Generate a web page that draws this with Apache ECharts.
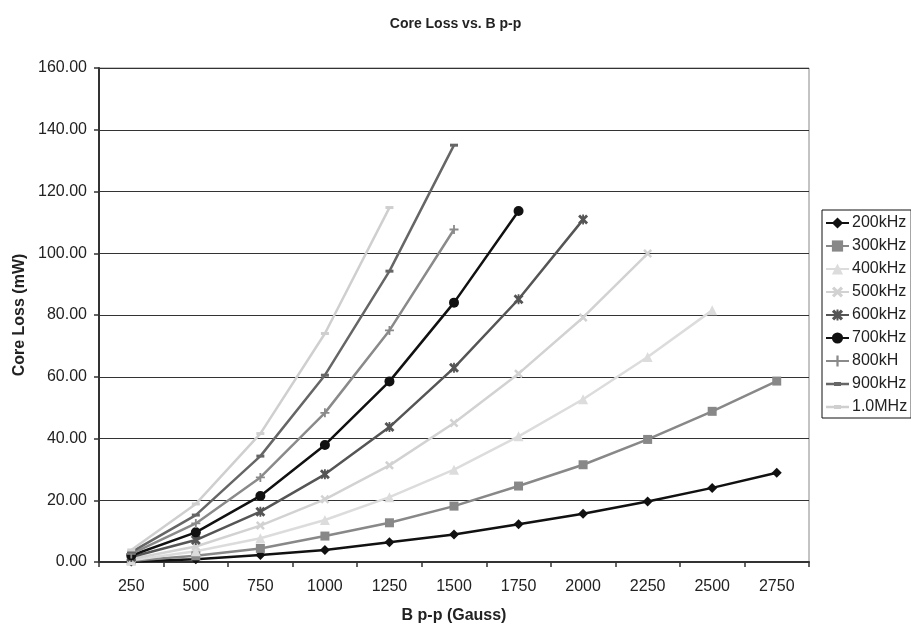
<!DOCTYPE html>
<html>
<head>
<meta charset="utf-8">
<script src="https://cdn.jsdelivr.net/npm/echarts@6/dist/echarts.min.js"></script>
<style>
html,body{margin:0;padding:0;background:#fff;}
#chart{width:911px;height:624px;}
</style>
</head>
<body>
<div id="chart"></div>
<script>
const categories = ['250','500','750','1000','1250','1500','1750','2000','2250','2500','2750'];
const seriesNames = ['200kHz','300kHz','400kHz','500kHz','600kHz','700kHz','800kH','900kHz','1.0MHz'];
const s200k = [0.2, 0.9, 2.3, 3.9, 6.4, 8.9, 12.2, 15.6, 19.6, 24.0, 28.9];
const s300k = [0.4, 2.0, 4.4, 8.4, 12.7, 18.1, 24.6, 31.5, 39.7, 48.8, 58.6];
const s400k = [0.6, 3.5, 7.7, 13.6, 21.0, 29.9, 40.7, 52.7, 66.4, 81.5];
const s500k = [1.0, 5.0, 11.8, 20.3, 31.3, 45.0, 61.0, 79.2, 99.9];
const s600k = [1.6, 7.1, 16.3, 28.4, 43.7, 62.9, 85.1, 110.9];
const s700k = [2.1, 9.6, 21.4, 37.9, 58.5, 84.0, 113.7];
const s800k = [2.6, 12.5, 27.4, 48.3, 75.0, 107.7];
const s900k = [3.2, 15.2, 34.3, 60.5, 94.2, 135.0];
const s1M = [3.9, 18.8, 41.6, 74.0, 114.8];
const yTicks = {min: 0, max: 160, interval: 20};

const X_PATH = 'path://M2,0 L5,3 L8,0 L10,2 L7,5 L10,8 L8,10 L5,7 L2,10 L0,8 L3,5 L0,2 Z';
const PLUS_PATH = 'path://M4,0 H6 V4 H10 V6 H6 V10 H4 V6 H0 V4 H4 Z';
const STAR_PATH = 'path://M2,0 L5,3 L8,0 L10,2 L7,5 L10,8 L8,10 L5,7 L2,10 L0,8 L3,5 L0,2 Z M4.1,0 H5.9 V10 H4.1 Z';
const DASH_LEGEND = 'path://M0,0 H0.01 V14 H0 Z M0,5.8 H23 V8.2 H0 Z M8,5 H15 V9 H8 Z';

const styles = [
  {data: s200k, color: '#111111', symbol: 'diamond', size: 10},
  {data: s300k, color: '#888888', symbol: 'rect', size: 9},
  {data: s400k, color: '#dcdcdc', symbol: 'triangle', size: 10},
  {data: s500k, color: '#d2d2d2', symbol: X_PATH, size: 9},
  {data: s600k, color: '#555555', symbol: STAR_PATH, size: 10},
  {data: s700k, color: '#111111', symbol: 'circle', size: 10},
  {data: s800k, color: '#8a8a8a', symbol: PLUS_PATH, size: 9},
  {data: s900k, color: '#666666', symbol: 'rect', size: [8, 3], legendIcon: DASH_LEGEND},
  {data: s1M, color: '#cfcfcf', symbol: 'rect', size: [8, 3], legendIcon: DASH_LEGEND}
];

const series = styles.map((s, i) => ({
  name: seriesNames[i],
  type: 'line',
  data: s.data,
  symbol: s.symbol,
  symbolSize: s.size,
  showAllSymbol: true,
  lineStyle: {color: s.color, width: 2.5},
  itemStyle: {color: s.color},
  emphasis: {disabled: true},
  animation: false
}));

const legendData = seriesNames.map((n, i) => styles[i].legendIcon ? {name: n, icon: styles[i].legendIcon} : {name: n});

const chart = echarts.init(document.getElementById('chart'));
chart.setOption({
  animation: false,
  backgroundColor: '#fff',
  title: {
    text: 'Core Loss vs. B p-p',
    left: 'center',
    top: 12,
    textStyle: {fontFamily: 'Liberation Sans', fontSize: 14, fontWeight: 'bold', color: '#222'}
  },
  legend: {
    orient: 'vertical',
    left: 822,
    top: 210,
    width: 87,
    padding: [5, 4, 3, 3],
    itemGap: 7,
    itemWidth: 23,
    itemHeight: 14,
    borderColor: '#111',
    borderWidth: 1,
    textStyle: {fontFamily: 'Liberation Sans', fontSize: 16, color: '#222', padding: [0, 0, 0, -2]},
    data: legendData
  },
  grid: {
    left: 99, right: 102, top: 68, bottom: 62,
    outerBoundsMode: 'none',
    containLabel: false,
    show: true, borderColor: '#888', borderWidth: 1
  },
  xAxis: {
    type: 'category',
    data: categories,
    boundaryGap: true,
    name: 'B p-p (Gauss)',
    nameLocation: 'middle',
    nameGap: 46,
    nameTextStyle: {fontFamily: 'Liberation Sans', fontSize: 16, fontWeight: 'bold', color: '#222'},
    axisLine: {lineStyle: {color: '#333', width: 2}},
    axisTick: {show: true, inside: false, length: 5, lineStyle: {color: '#333', width: 1.5}, interval: 0},
    axisLabel: {fontFamily: 'Liberation Sans', fontSize: 16, color: '#222', margin: 17, interval: 0},
    splitLine: {show: false}
  },
  yAxis: {
    type: 'value',
    min: yTicks.min,
    max: yTicks.max,
    interval: yTicks.interval,
    name: 'Core Loss (mW)',
    nameLocation: 'middle',
    nameGap: 66,
    nameTextStyle: {fontFamily: 'Liberation Sans', fontSize: 16, fontWeight: 'bold', color: '#222'},
    axisLine: {show: true, lineStyle: {color: '#333', width: 2}},
    axisTick: {show: true, inside: false, length: 5, lineStyle: {color: '#333', width: 1.5}},
    axisLabel: {fontFamily: 'Liberation Sans', fontSize: 16, color: '#222', margin: 12,
      formatter: v => v.toFixed(2)},
    splitLine: {show: true, lineStyle: {color: '#333', width: 1}}
  },
  series: series
});
</script>
</body>
</html>
